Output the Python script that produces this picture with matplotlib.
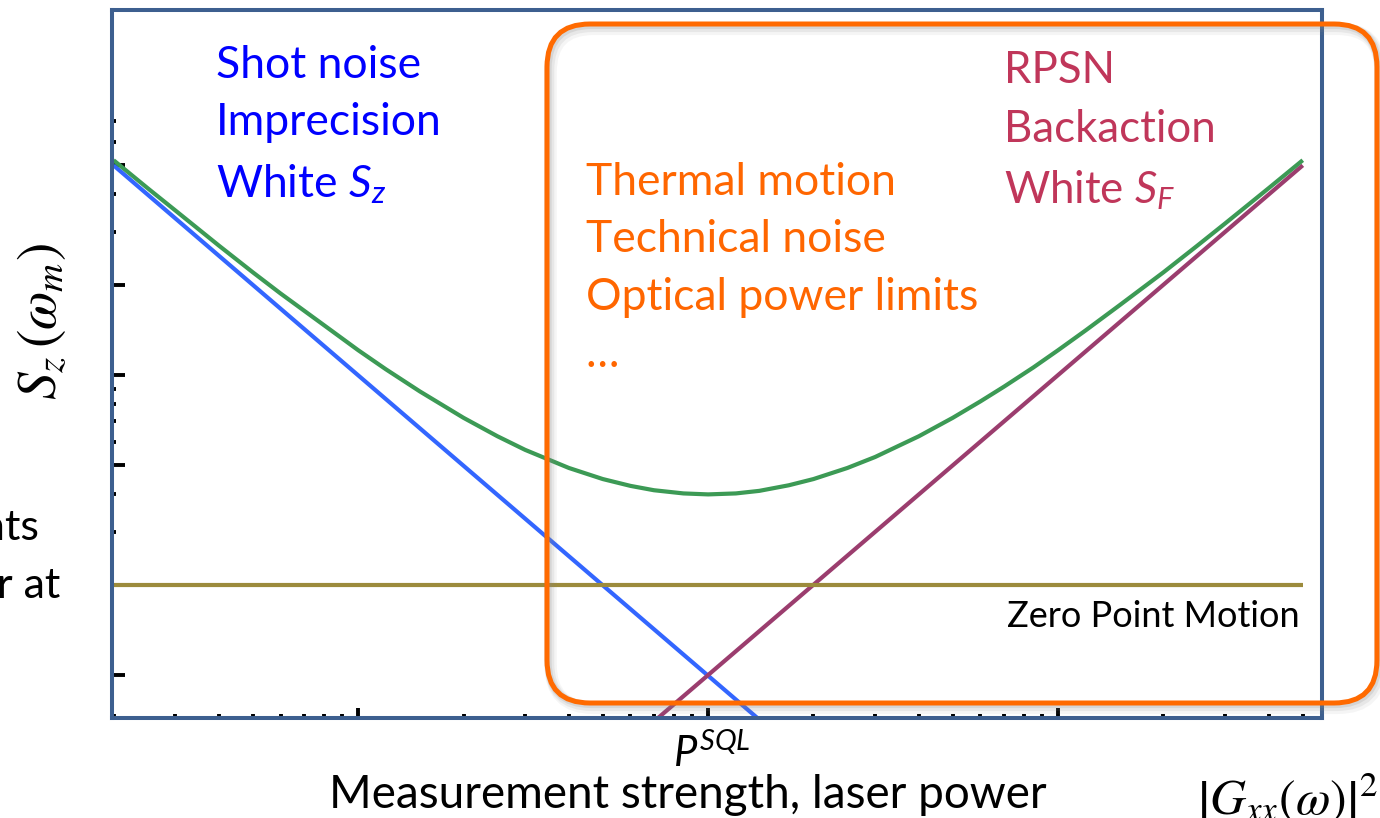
import numpy as np
import matplotlib
matplotlib.use("Agg")
import matplotlib.pyplot as plt
from matplotlib.patches import FancyBboxPatch
from matplotlib.transforms import Affine2D
from matplotlib.ticker import NullFormatter, LogLocator

plt.rcParams['font.family'] = ['Lato', 'DejaVu Sans']
plt.rcParams['mathtext.fontset'] = 'custom'
plt.rcParams['mathtext.it'] = 'Lato:italic'
plt.rcParams['mathtext.rm'] = 'Lato'

# measurement strength (laser power, arb. units, P_SQL = 100) and noise levels
p_imp = [2, 142]
s_imp = [50, 0.70]          # shot noise imprecision
p_ba = [70, 5000]
s_ba = [0.70, 50]           # radiation pressure backaction
p_zp = [2, 5000]
s_zp = [2, 2]               # zero point motion
p_tot = [2, 2.5, 3, 4, 5, 6, 7, 8.5, 10, 12, 15, 20, 25, 30, 40, 50, 60, 70,
         85, 100, 120, 140, 170, 200, 250, 300, 400, 500, 600, 700, 850, 1000,
         1200, 1500, 2000, 2500, 3000, 4000, 5000]
s_tot = [52.0, 42.0, 35.4, 27.0, 22.0, 18.7, 16.4, 13.9, 12.1, 10.45, 8.82,
         7.2, 6.25, 5.63, 4.9, 4.5, 4.27, 4.13, 4.03, 4.0, 4.03, 4.11, 4.29,
         4.5, 4.9, 5.33, 6.25, 7.2, 8.17, 9.14, 10.6, 12.1, 14.1, 17.1, 22.0,
         27.0, 32.0, 42.0, 52.0]
p_sql = 100

y_major = [1, 2, 5, 10, 20, 50]
y_minor = [3, 4, 6, 7, 8, 9, 30, 40, 60, 70]

W, H = 1380, 818
fig = plt.figure(figsize=(W / 100, H / 100), dpi=100)
ax = fig.add_axes([112 / W, (H - 718) / H, (1322 - 112) / W, (718 - 10) / H])

ax.plot(p_imp, s_imp, color='#3366ff', lw=3, solid_capstyle='butt')
ax.plot(p_ba, s_ba, color='#9b3d6e', lw=3, solid_capstyle='butt')
ax.plot(p_zp, s_zp, color='#9c8b3c', lw=3, solid_capstyle='butt')
ax.plot(p_tot, s_tot, color='#3c9a55', lw=3, solid_capstyle='butt')

ax.set_xscale('log')
ax.set_yscale('log')
ax.set_xlim(1.98, 5675)
ax.set_ylim(0.719, 164.7)

ax.xaxis.set_major_locator(LogLocator(base=10))
ax.xaxis.set_minor_locator(LogLocator(base=10, subs=np.arange(2, 10)))
ax.set_yticks(y_major)
ax.set_yticks(y_minor, minor=True)
for axis in (ax.xaxis, ax.yaxis):
    axis.set_major_formatter(NullFormatter())
    axis.set_minor_formatter(NullFormatter())
ax.tick_params(axis='x', which='major', direction='in', length=7, width=2.8, color='k')
ax.tick_params(axis='y', which='major', direction='in', length=9.5, width=2.8, color='k')
ax.tick_params(which='minor', direction='in', length=3, width=2.8, color='k')

for sp in ax.spines.values():
    sp.set_color('#3d5f8f')
    sp.set_linewidth(2.9)

# orange rounded box with soft shadow (pixel coordinates)
px = Affine2D().scale(1 / 100.) + fig.dpi_scale_trans
bx, by, bw, bh = 547, H - 703, 1377 - 547, 703 - 24
for k, a in zip([6, 4, 2], [0.08, 0.12, 0.18]):
    sh = FancyBboxPatch((bx + k * 0.6, by - k * 0.8), bw, bh,
                        boxstyle='round,pad=0,rounding_size=43',
                        transform=px, fill=False, ec='#888888', lw=3 + k,
                        alpha=a, zorder=1)
    fig.add_artist(sh)
box = FancyBboxPatch((bx, by), bw, bh, boxstyle='round,pad=0,rounding_size=43',
                     transform=px, fill=False, ec='#ff6a00', lw=3.6, zorder=2)
fig.add_artist(box)

def ftext(x, y, s, **kw):
    fig.text(x / W, 1 - y / H, s, **kw)

blue = '#0000ff'
ftext(216, 78, 'Shot noise', color=blue, fontsize=32, va='baseline')
ftext(216, 135, 'Imprecision', color=blue, fontsize=32, va='baseline')
ftext(216, 197, 'White $S_z$', color=blue, fontsize=32, va='baseline')

crimson = '#c0365a'
ftext(1004, 83, 'RPSN', color=crimson, fontsize=31.5, va='baseline')
ftext(1004, 142, 'Backaction', color=crimson, fontsize=31.5, va='baseline')
ftext(1004, 203, 'White $S_F$', color=crimson, fontsize=31.5, va='baseline')

orange = '#ff6600'
ftext(586, 195, 'Thermal motion', color=orange, fontsize=32, va='baseline')
ftext(586, 252, 'Technical noise', color=orange, fontsize=32, va='baseline')
ftext(586, 310, 'Optical power limits', color=orange, fontsize=32, va='baseline')
ftext(586, 367, '\u2026', color=orange, fontsize=32, va='baseline')

ftext(1300, 627, 'Zero Point Motion', color='k', fontsize=26, va='baseline', ha='right')

ftext(712, 767, r'$P^{SQL}$', color='k', fontsize=30, va='baseline', ha='center')
ftext(688, 808, 'Measurement strength, laser power', color='k', fontsize=33,
      va='baseline', ha='center')

ftext(39, 540, 'nts', color='k', fontsize=31, va='baseline', ha='right')
ftext(60, 598, 'r at', color='k', fontsize=31, va='baseline', ha='right')

ftext(42, 322, r'$S_z\,(\omega_m)$', color='k', fontsize=40, rotation=90,
      ha='center', va='center', math_fontfamily='stix')
ftext(1197, 772, r'$\left|G_{xx}(\omega)\right|^2$', color='k', fontsize=36,
      ha='left', va='top', math_fontfamily='stix')

fig.savefig('out.png', dpi=100)
